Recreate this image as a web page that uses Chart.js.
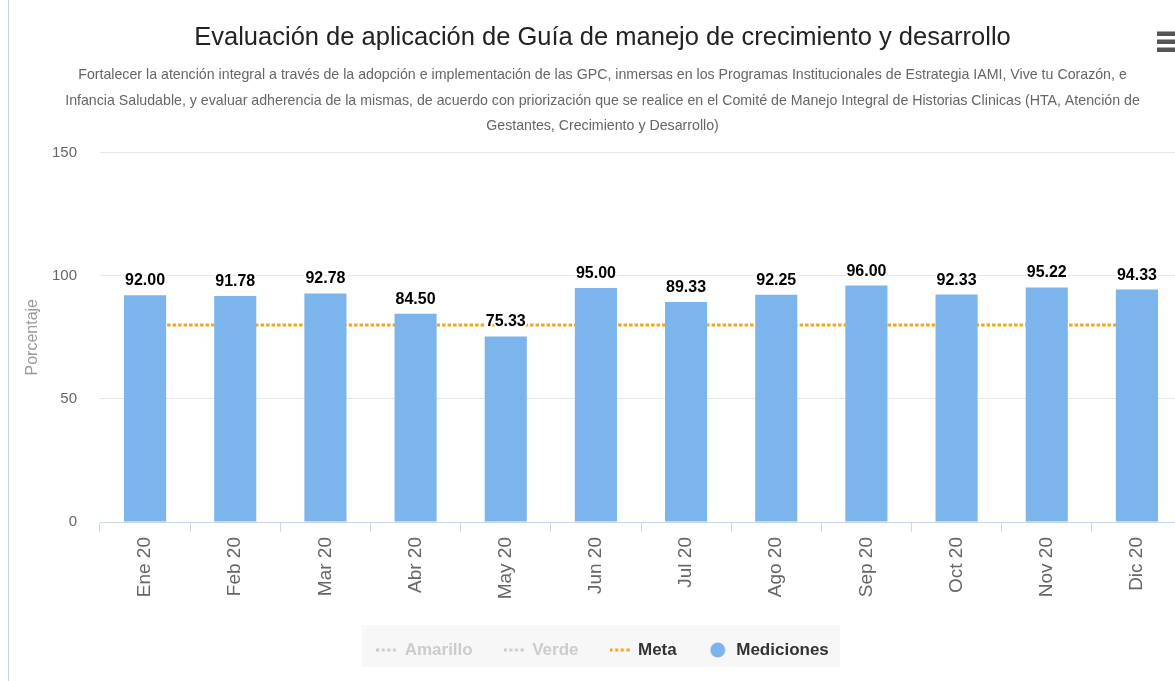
<!DOCTYPE html>
<html>
<head>
<meta charset="utf-8">
<script src="https://cdn.jsdelivr.net/npm/chart.js@4/dist/chart.umd.min.js"></script>
<style>
html,body{margin:0;padding:0;background:#fff;overflow:hidden;width:1175px;height:681px;}
#edge{position:absolute;left:8px;top:0;width:1px;height:681px;background:#c9d3e3;}
#wrap{position:absolute;left:9px;top:0;width:1192px;height:681px;}
</style>
</head>
<body>
<div id="edge"></div>
<div id="wrap"><canvas id="c" width="1192" height="681"></canvas></div>
<script>
// ---- data ----
const categories = ['Ene 20','Feb 20','Mar 20','Abr 20','May 20','Jun 20','Jul 20','Ago 20','Sep 20','Oct 20','Nov 20','Dic 20'];
const mediciones = [92.00, 91.78, 92.78, 84.50, 75.33, 95.00, 89.33, 92.25, 96.00, 92.33, 95.22, 94.33];
const meta = [80, 80, 80, 80, 80, 80, 80, 80, 80, 80, 80, 80];
const amarillo = [];
const verde = [];
const yTicks = [0, 50, 100, 150];
const titleText = 'Evaluación de aplicación de Guía de manejo de crecimiento y desarrollo';
const subtitleLines = [
  'Fortalecer la atención integral a través de la adopción e implementación de las GPC, inmersas en los Programas Institucionales de Estrategia IAMI, Vive tu Corazón, e',
  'Infancia Saludable, y evaluar adherencia de la mismas, de acuerdo con priorización que se realice en el Comité de Manejo Integral de Historias Clinicas (HTA, Atención de',
  'Gestantes, Crecimiento y Desarrollo)'
];
const yTitle = 'Porcentaje';

// ---- styles ----
const SANS = "'Liberation Sans', Arial, sans-serif";
const BAR_COLOR = '#7cb5ec';
const META_COLOR = '#f2a71b';

function makeSymbol(kind, color) {
  const c = document.createElement('canvas');
  const g = c.getContext('2d');
  if (kind === 'circle') {
    c.width = 16; c.height = 16;
    g.fillStyle = color;
    g.beginPath(); g.arc(8, 8, 7.5, 0, Math.PI * 2); g.fill();
  } else {
    c.width = 20; c.height = 4;
    g.strokeStyle = color; g.lineWidth = 3;
    g.setLineDash([3, 2.6]);
    g.beginPath(); g.moveTo(0, 2); g.lineTo(20, 2); g.stroke();
  }
  return c;
}

const dataLabels = {
  id: 'dataLabels',
  afterDatasetsDraw(chart) {
    const idx = chart.data.datasets.findIndex(d => d.type === 'bar' || !d.type);
    if (idx < 0 || !chart.isDatasetVisible(idx)) return;
    const m = chart.getDatasetMeta(idx);
    const ctx = chart.ctx;
    ctx.save();
    ctx.font = 'bold 16px ' + SANS;
    ctx.textAlign = 'center';
    ctx.textBaseline = 'alphabetic';
    ctx.lineJoin = 'round';
    ctx.lineWidth = 4;
    ctx.strokeStyle = '#ffffff';
    ctx.fillStyle = '#000000';
    m.data.forEach((el, i) => {
      const t = chart.data.datasets[idx].data[i].toFixed(2);
      ctx.strokeText(t, el.x, el.y - 10);
      ctx.fillText(t, el.x, el.y - 10);
    });
    ctx.restore();
  }
};

const legendBg = {
  id: 'legendBg',
  beforeDraw(chart) {
    const lg = chart.legend;
    if (!lg || !lg.legendHitBoxes || !lg.legendHitBoxes.length) return;
    const hb = lg.legendHitBoxes;
    const l = hb[0].left, r = hb[hb.length - 1].left + hb[hb.length - 1].width;
    const cy = hb[0].top + hb[0].height / 2;
    const ctx = chart.ctx;
    ctx.save();
    ctx.fillStyle = '#f7f7f7';
    ctx.fillRect(l - 14, cy - 25, (r - l) + 25, 42);
    ctx.restore();
  }
};

const menuIcon = {
  id: 'menuIcon',
  afterDraw(chart) {
    const ctx = chart.ctx;
    const x = chart.width - 44;
    ctx.save();
    ctx.fillStyle = '#555';
    [31.5, 39.5, 47.5].forEach(y => ctx.fillRect(x, y, 22, 4.5));
    ctx.restore();
  }
};

new Chart(document.getElementById('c'), {
  type: 'bar',
  data: {
    labels: categories,
    datasets: [
      { type: 'line', label: 'Amarillo', data: amarillo, hidden: true, borderColor: '#f7d51d', borderWidth: 3, borderDash: [3, 2.6], pointRadius: 0, order: 3, symbol: 'line' },
      { type: 'line', label: 'Verde', data: verde, hidden: true, borderColor: '#5cb85c', borderWidth: 3, borderDash: [3, 2.6], pointRadius: 0, order: 3, symbol: 'line' },
      { type: 'line', label: 'Meta', data: meta, borderColor: META_COLOR, borderWidth: 3, borderDash: [3.5, 2], pointRadius: 0, pointHoverRadius: 0, fill: false, order: 2, symbol: 'line' },
      { type: 'bar', label: 'Mediciones', data: mediciones, backgroundColor: BAR_COLOR, borderWidth: 0, barPercentage: 0.467, categoryPercentage: 1, order: 1, symbol: 'circle' }
    ]
  },
  options: {
    responsive: false,
    animation: false,
    devicePixelRatio: 1,
    layout: { padding: { left: 14, right: 19, top: 0, bottom: 12.5 } },
    plugins: {
      title: {
        display: true, text: titleText, color: '#222',
        font: { family: SANS, size: 25.5, weight: 'normal', lineHeight: 1.2 },
        padding: { top: 22.7, bottom: 0 }
      },
      subtitle: {
        display: true, text: subtitleLines, color: '#666',
        font: { family: SANS, size: 14.2, weight: 'normal', lineHeight: 1.8 },
        padding: { top: 9, bottom: 13.5 }
      },
      legend: {
        position: 'bottom',
        labels: {
          usePointStyle: true,
          pointStyleWidth: 20,
          padding: 31,
          font: { family: SANS, size: 17, weight: 'bold' },
          generateLabels(chart) {
            return chart.data.datasets.map((ds, i) => {
              const vis = chart.isDatasetVisible(i);
              const col = vis ? (ds.symbol === 'circle' ? ds.backgroundColor : ds.borderColor) : '#cccccc';
              return {
                text: ds.label,
                fontColor: vis ? '#333333' : '#cccccc',
                pointStyle: makeSymbol(ds.symbol, col),
                hidden: false,
                datasetIndex: i,
                lineWidth: 0,
                strokeStyle: 'rgba(0,0,0,0)',
                fillStyle: 'rgba(0,0,0,0)'
              };
            });
          }
        }
      },
      tooltip: { enabled: true }
    },
    scales: {
      x: {
        offset: true,
        grid: { display: true, drawOnChartArea: false, drawTicks: true, tickLength: 10, color: '#ccd6eb', offset: true },
        border: { display: true, color: '#ccd6eb', width: 1 },
        ticks: { color: '#666', font: { family: SANS, size: 19 }, minRotation: 90, maxRotation: 90, padding: 5, autoSkip: false },
        afterFit(s) { s.height = 88.5; }
      },
      y: {
        min: 0, max: 150,
        afterBuildTicks(s) { s.ticks = yTicks.map(v => ({ value: v })); },
        grid: { color: '#e6e6e6', drawTicks: false },
        border: { display: false },
        ticks: { color: '#666', font: { family: SANS, size: 15 }, padding: 23 },
        title: { display: true, text: yTitle, color: '#999', font: { family: SANS, size: 16, lineHeight: 1 }, padding: { top: 2, bottom: 0 } },
        afterFit(s) { s.width = 77; }
      }
    }
  },
  plugins: [legendBg, dataLabels, menuIcon]
});
</script>
</body>
</html>
